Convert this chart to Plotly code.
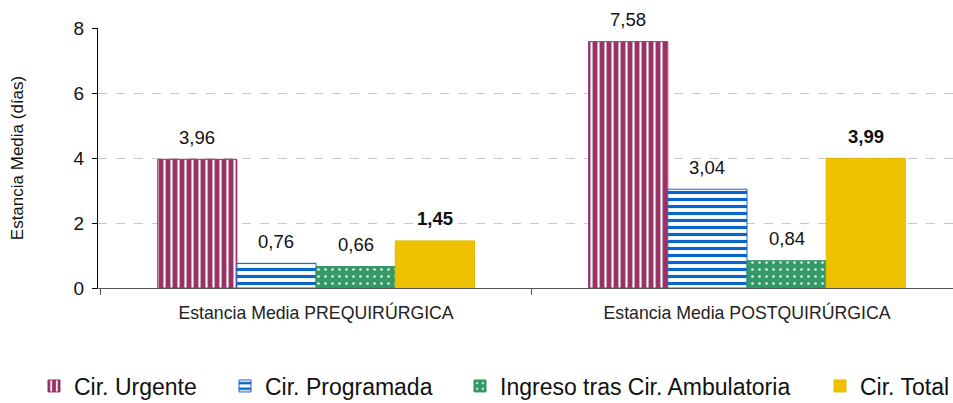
import plotly.graph_objects as go

categories = ["Estancia Media PREQUIRÚRGICA", "Estancia Media POSTQUIRÚRGICA"]
series_names = ["Cir. Urgente", "Cir. Programada", "Ingreso tras Cir. Ambulatoria", "Cir. Total"]
urgente = [3.96, 7.58]
programada = [0.76, 3.04]
ambulatoria = [0.66, 0.84]
total = [1.45, 3.99]
y_ticks = [0, 2, 4, 6, 8]

series_values = [urgente, programada, ambulatoria, total]

BARGAP = 0.265
W = 953
FONT = "Liberation Sans, Arial, sans-serif"

styles = [
    dict(color="#993366", line=dict(color="#993366", width=1),
         pattern=dict(shape="|", fgcolor="white", bgcolor="#993366", size=7, solidity=0.3, fillmode="replace")),
    dict(color="white", line=dict(color="#1F5FD0", width=1),
         pattern=dict(shape="-", fgcolor="#0A66CC", bgcolor="white", size=7, solidity=0.45, fillmode="replace")),
    dict(color="#339966", line=dict(color="#339966", width=1),
         pattern=dict(shape=".", fgcolor="#DDEFE5", bgcolor="#339966", size=7, solidity=0.12, fillmode="replace")),
    dict(color="#EEC200", line=dict(color="#E6BA00", width=1)),
]
legend_ids = ["legend", "legend2", "legend3", "legend4"]
legend_text_x = [74, 265, 500, 860]

fig = go.Figure()
for k, (name, vals) in enumerate(zip(series_names, series_values)):
    fig.add_bar(name=name, x=categories, y=vals, marker=styles[k], legend=legend_ids[k])

# value labels, placed above each bar
n = len(series_names)
bw = (1 - BARGAP) / n
annotations = []
for k, vals in enumerate(series_values):
    for i, v in enumerate(vals):
        txt = f"{v:.2f}".replace(".", ",")
        if k == n - 1:
            txt = f"<b>{txt}</b>"
        annotations.append(dict(
            x=i + (k - (n - 1) / 2) * bw, y=v, xref="x", yref="y",
            text=txt, showarrow=False, yanchor="middle", yshift=22,
            font=dict(size=18.5, color="#111111", family=FONT),
        ))

layout_legends = {}
for k, lid in enumerate(legend_ids):
    layout_legends[lid] = dict(
        orientation="h", xref="container", yref="container",
        x=(legend_text_x[k] - 40) / W, xanchor="left",
        y=1 - 386 / 403, yanchor="middle",
        font=dict(size=23, color="#111111", family=FONT),
        itemwidth=30, bgcolor="rgba(0,0,0,0)",
    )

fig.update_layout(
    width=W, height=403,
    margin=dict(l=98, r=0, t=28, b=115, autoexpand=False),
    barmode="group", bargap=BARGAP, bargroupgap=0,
    separators=",.",
    plot_bgcolor="white", paper_bgcolor="white",
    font=dict(family=FONT, color="#222222"),
    showlegend=True,
    annotations=annotations,
    **layout_legends,
)
fig.update_xaxes(
    range=[-0.506, 1.478], showline=True, linecolor="#555555", linewidth=1,
    ticks="outside", tickson="boundaries", ticklen=6, tickcolor="#555555",
    tickfont=dict(size=17.7, color="#222222"), showgrid=False,
    automargin=False, ticklabelstandoff=9,
)
fig.update_yaxes(
    range=[0, 8], tickvals=y_ticks, showline=True, linecolor="#000000", linewidth=1,
    ticks="outside", ticklen=5, tickcolor="#000000",
    tickfont=dict(size=19, color="#111111"),
    showgrid=True, gridcolor="#C8C8C8", griddash="dash", gridwidth=1,
    zeroline=False, automargin=False, ticklabelstandoff=4,
    title=dict(text="Estancia Media (días)", font=dict(size=17, color="#111111"), standoff=45),
)

fig.write_html(
    "out.html",
    config={"displayModeBar": False},
    post_script="document.body.style.margin='0';document.body.style.overflow='hidden';",
)
